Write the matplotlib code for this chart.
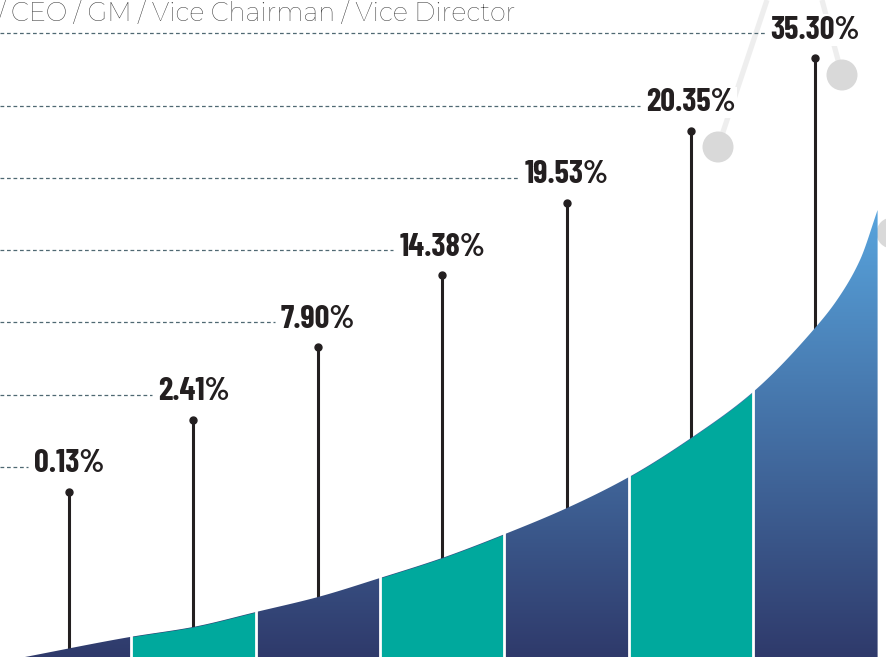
import numpy as np
import matplotlib
matplotlib.use("Agg")
import matplotlib.pyplot as plt
from matplotlib import font_manager
from matplotlib.colors import LinearSegmentedColormap
from matplotlib.patches import Polygon, Circle

# ---------------- data ----------------
values = [0.13, 2.41, 7.90, 14.38, 19.53, 20.35, 35.30]
value_labels = [f"{v:.2f}%" for v in values]
header_text = "/ CEO / GM / Vice Chairman / Vice Director"

# decorative rising area (height above baseline, sampled along x)
shape_x = [25, 130, 193, 256, 318, 380, 442, 505, 567, 629, 691, 753, 815, 837, 860, 877.6]
shape_h = [0, 20, 30, 45, 60, 79, 99, 123, 149, 180, 219, 265, 329, 357, 397, 447]

# ---------------- style ----------------
W, H = 886, 657
NAVY_DARK = "#2f3a6b"
NAVY_LIGHT = "#58a4dd"
TEAL = "#00a99d"
INK = "#231f20"
DASH = "#4f6872"

names = {f.name for f in font_manager.fontManager.ttflist}


def pick(cands):
    for c in cands:
        if c in names:
            return c
    return "DejaVu Sans"


num_font = pick(["Barlow Condensed", "Roboto Condensed", "Oswald"])
head_font = pick(["Montserrat", "Lato", "Barlow", "Roboto"])


def pchip(xk, yk, x):
    xk = np.asarray(xk, float); yk = np.asarray(yk, float)
    h = np.diff(xk); d = np.diff(yk) / h
    m = np.zeros_like(yk)
    m[0], m[-1] = d[0], d[-1]
    for k in range(1, len(xk) - 1):
        if d[k - 1] * d[k] > 0:
            w1 = 2 * h[k] + h[k - 1]; w2 = h[k] + 2 * h[k - 1]
            m[k] = (w1 + w2) / (w1 / d[k - 1] + w2 / d[k])
    idx = np.clip(np.searchsorted(xk, x) - 1, 0, len(xk) - 2)
    t = (x - xk[idx]) / h[idx]
    h00 = 2 * t**3 - 3 * t**2 + 1; h10 = t**3 - 2 * t**2 + t
    h01 = -2 * t**3 + 3 * t**2; h11 = t**3 - t**2
    return h00 * yk[idx] + h10 * h[idx] * m[idx] + h01 * yk[idx + 1] + h11 * h[idx] * m[idx + 1]


fig = plt.figure(figsize=(W / 100, H / 100), dpi=100)
ax = fig.add_axes([0, 0, 1, 1])
ax.set_xlim(0, W)
ax.set_ylim(H, 0)
ax.axis("off")
r = fig.canvas.get_renderer()


def fit_size(text, family, weight, target_w, base=24):
    t = ax.text(0, 0, text, fontsize=base, family=family, fontweight=weight)
    w = t.get_window_extent(renderer=r).width
    t.remove()
    return base * target_w / w


n = len(values)
step = 124.4
x_c = 69 + step * np.arange(n)
label_y = 464 - 72.3 * np.arange(n)

xs = np.linspace(shape_x[0], shape_x[-1], 800)
ys = H - pchip(shape_x, shape_h, xs)
curve = lambda x: H - pchip(shape_x, shape_h, np.asarray(x, float))

# grey decorative lines and circles
ax.plot([767, 718], [0, 147], color="#eeeeee", lw=3.8, solid_capstyle="butt", zorder=0)
ax.plot([822, 842], [0, 75], color="#eeeeee", lw=3.8, solid_capstyle="butt", zorder=0)
for cx, cy in [(718, 147), (842, 75), (892, 233)]:
    ax.add_patch(Circle((cx, cy), 15.5, color="#d9d9d9", lw=0, zorder=0.5))

# gradient-filled area
poly_pts = np.column_stack([np.r_[xs, shape_x[-1], shape_x[0]], np.r_[ys, H, H]])
clip = Polygon(poly_pts, closed=True, facecolor="none", edgecolor="none")
ax.add_patch(clip)
cmap = LinearSegmentedColormap.from_list("g", [NAVY_DARK, NAVY_LIGHT])
grad = np.linspace(0, 1, 256).reshape(-1, 1)
im = ax.imshow(grad, cmap=cmap, extent=(0, W, H, H - 447), origin="lower",
               aspect="auto", zorder=2, interpolation="bilinear")
im.set_clip_path(clip)
ax.set_xlim(0, W); ax.set_ylim(H, 0)

# teal segments
for i in range(n):
    if i % 2 == 1:
        sx = np.linspace(x_c[i] - step / 2, x_c[i] + step / 2, 200)
        ax.fill_between(sx, curve(sx), H, color=TEAL, lw=0, zorder=3)

# white separators
for i in range(n - 1):
    bx = x_c[i] + step / 2
    ax.plot([bx, bx], [curve(bx) - 2, H], color="white", lw=2.0, zorder=4)

# stems + labels
num_size = fit_size(value_labels[-1], num_font, "bold", 90)
texts = []
for i in range(n):
    dot_y = label_y[i] + 28
    ax.plot([x_c[i], x_c[i]], [dot_y, H], color=INK, lw=2.2, zorder=1)
    ax.plot([x_c[i]], [dot_y], "o", ms=5, color=INK, zorder=1)
    t = ax.text(x_c[i], label_y[i], value_labels[i], ha="center", va="center",
                fontsize=num_size, fontweight="bold", family=num_font, color=INK,
                zorder=6, bbox=dict(facecolor="white", edgecolor="none", pad=1.0))
    texts.append(t)

head_size = fit_size("CEO / GM / Vice Chairman / Vice Director", head_font, "light", 506)
ht = ax.text(0, 13, header_text, ha="left", va="center", fontsize=head_size,
             family=head_font, fontweight="light", color="#2e2e2e", zorder=6)
# shift so that "CEO" begins at x≈12 (the leading slash is cut by the edge, as in the source)
lead = ax.text(0, 0, "/ ", fontsize=head_size, family=head_font, fontweight="light")
lead_w = lead.get_window_extent(renderer=r).width
lead.remove()
ht.set_x(12 - lead_w)

fig.canvas.draw()
inv = ax.transData.inverted()
for i, t in enumerate(texts):
    bb = t.get_window_extent(renderer=r)
    left = inv.transform((bb.x0, bb.y0))[0]
    ax.plot([0, left - 6], [label_y[i] + 3, label_y[i] + 3], color=DASH, lw=0.9,
            ls=(0, (3, 2.2)), zorder=5)

fig.savefig("out.png", dpi=100)
